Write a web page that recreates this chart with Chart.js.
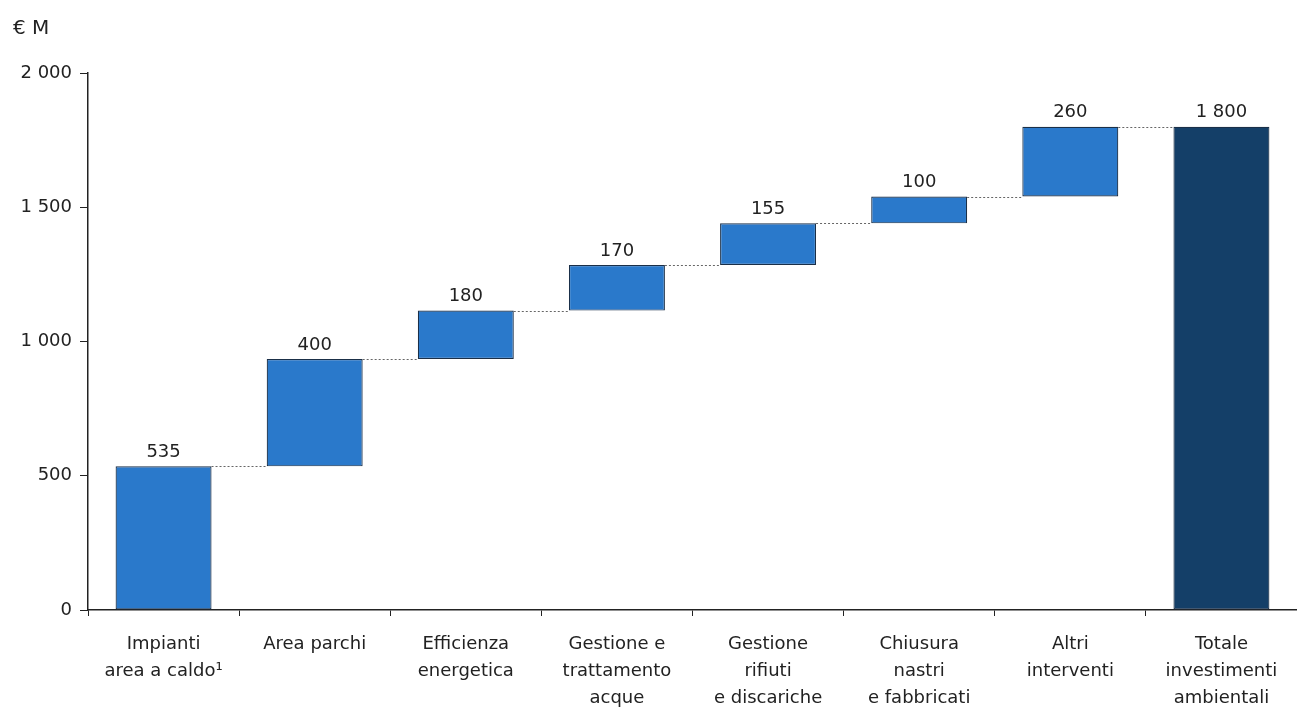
<!DOCTYPE html>
<html>
<head>
<meta charset="utf-8">
<script src="https://cdn.jsdelivr.net/npm/chart.js@4"></script>
<style>
  html, body { margin: 0; background: #fff; }
  #wrap { width: 1297px; height: 709px; }
</style>
</head>
<body>
<div id="wrap"><canvas id="chart"></canvas></div>
<script>
const categories = [
    ['Impianti', 'area a caldo¹'],
    ['Area parchi'],
    ['Efficienza', 'energetica'],
    ['Gestione e', 'trattamento', 'acque'],
    ['Gestione', 'rifiuti', 'e discariche'],
    ['Chiusura', 'nastri', 'e fabbricati'],
    ['Altri', 'interventi'],
    ['Totale', 'investimenti', 'ambientali']
];
const increments = [535, 400, 180, 170, 155, 100, 260];
const total = 1800;
const yTicks = [0, 500, 1000, 1500, 2000];
const unitLabel = '€ M';

const FONT = 'DejaVu Sans';
const fmt = n => String(n).replace(/\B(?=(\d{3})+(?!\d))/g, ' ');

// floating ranges for the waterfall
const ranges = [];
const labels = [];
let run = 0;
increments.forEach(v => {
    ranges.push([run, run + v]);
    labels.push(v);
    run += v;
});
ranges.push([0, total]);
labels.push(total);
const colors = ranges.map((r, i) => i === ranges.length - 1 ? '#143f68' : '#2a79cb');

const extras = {
    id: 'extras',
    afterDatasetsDraw(chart) {
        const ctx = chart.ctx;
        const meta = chart.getDatasetMeta(0);
        const y = chart.scales.y;
        ctx.save();
        // dotted connectors
        ctx.strokeStyle = '#666';
        ctx.lineWidth = 1;
        ctx.setLineDash([2, 2]);
        for (let i = 0; i < meta.data.length - 1; i++) {
            const a = meta.data[i], b = meta.data[i + 1];
            const py = Math.round(y.getPixelForValue(ranges[i][1])) + 0.5;
            ctx.beginPath();
            ctx.moveTo(a.x + a.width / 2, py);
            ctx.lineTo(b.x - b.width / 2, py);
            ctx.stroke();
        }
        ctx.setLineDash([]);
        // value labels
        ctx.fillStyle = '#222';
        ctx.font = '18px "' + FONT + '"';
        ctx.textAlign = 'center';
        ctx.textBaseline = 'bottom';
        meta.data.forEach((bar, i) => {
            ctx.fillText(fmt(labels[i]), bar.x, y.getPixelForValue(ranges[i][1]) - 5);
        });
        // unit
        ctx.font = '20px "' + FONT + '"';
        ctx.textAlign = 'left';
        ctx.textBaseline = 'middle';
        ctx.fillText(unitLabel, 13, 29);
        ctx.restore();
    }
};

new Chart(document.getElementById('chart'), {
    type: 'bar',
    data: {
        labels: categories,
        datasets: [{
            data: ranges,
            backgroundColor: colors,
            borderColor: '#1a2f48',
            borderWidth: 1.2,
            borderSkipped: false,
            barPercentage: 0.635,
            categoryPercentage: 1
        }]
    },
    options: {
        responsive: true,
        maintainAspectRatio: false,
        animation: false,
        devicePixelRatio: 1,
        layout: { padding: { top: 73, right: 0, left: 0, bottom: 0 } },
        plugins: { legend: { display: false }, tooltip: { enabled: false } },
        scales: {
            x: {
                offset: true,
                afterFit: s => { s.height = 99; },
                border: { color: '#222', width: 1.5 },
                grid: { offset: true, drawOnChartArea: false, drawTicks: true, tickLength: 6, color: '#222' },
                ticks: { color: '#222', font: { family: FONT, size: 18, lineHeight: 1.5 }, padding: 15, maxRotation: 0, autoSkip: false }
            },
            y: {
                min: 0,
                max: 2000,
                afterFit: s => { s.width = 88; },
                afterBuildTicks: s => { s.ticks = yTicks.map(v => ({ value: v })); },
                border: { color: '#222', width: 1.5 },
                grid: { drawOnChartArea: false, drawTicks: true, tickLength: 8, color: '#222' },
                ticks: { color: '#222', font: { family: FONT, size: 18 }, padding: 8, callback: v => fmt(v) }
            }
        }
    },
    plugins: [extras]
});
</script>
</body>
</html>
